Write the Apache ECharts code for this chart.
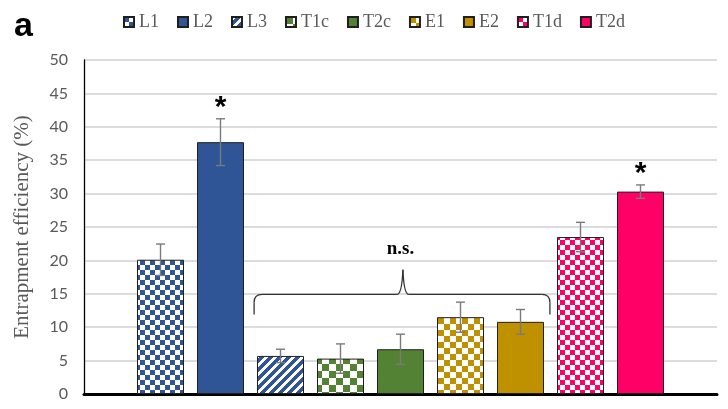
<!DOCTYPE html>
<html>
<head>
<meta charset="utf-8">
<script src="https://cdn.jsdelivr.net/npm/echarts@6/dist/echarts.min.js"></script>
<style>html,body{margin:0;padding:0;background:#fff}#c{width:728px;height:409px}</style>
</head>
<body>
<div id="c"></div>
<script>
// ---- data ----
const categories = ['L1', 'L2', 'L3', 'T1c', 'T2c', 'E1', 'E2', 'T1d', 'T2d'];
const values = [20.1, 37.7, 5.7, 5.3, 6.7, 11.5, 10.8, 23.5, 30.3];
const errors = [2.35, 3.5, 1.0, 2.2, 2.25, 2.25, 1.85, 2.2, 1.0];
const yMin = 0, yMax = 50, yInterval = 5;
const yAxisTitle = 'Entrapment efficiency (%)';
const panelLabel = 'a';
// significance marks: [category index, y value, text]
const starMarks = [[1, 42.8, '*'], [8, 33.0, '*']];
const nsMark = [[4, 21.7, 'n.s.']];
// brace: [x start, x end, y of line, y of ends, x of tip, y of tip] (data units)
const brace = [[1.56, 6.49, 14.9, 11.9, 4.04, 18.6]];

// ---- styles ----
const colors = ['#2F5597', '#2F5597', '#2F5597', '#548235', '#548235', '#BF9000', '#BF9000', '#FF0066', '#FF0066'];
const fills = ['checker5', 'solid', 'stripe', 'checker7', 'solid', 'checker6', 'solid', 'checker5', 'solid'];

function checker(color, s) {
  const c = document.createElement('canvas');
  c.width = 2 * s; c.height = 2 * s;
  const g = c.getContext('2d');
  g.fillStyle = '#ffffff'; g.fillRect(0, 0, 2 * s, 2 * s);
  g.fillStyle = color; g.fillRect(0, 0, s, s); g.fillRect(s, s, s, s);
  return { image: c, repeat: 'repeat' };
}
function stripe(color, p, w) {
  const c = document.createElement('canvas');
  c.width = p; c.height = p;
  const g = c.getContext('2d');
  const img = g.createImageData(p, p);
  const r = parseInt(color.slice(1, 3), 16), gg = parseInt(color.slice(3, 5), 16), b = parseInt(color.slice(5, 7), 16);
  for (let y = 0; y < p; y++) for (let x = 0; x < p; x++) {
    const k = (y * p + x) * 4;
    const white = ((x + y) % p) < w;
    img.data[k] = white ? 255 : r; img.data[k + 1] = white ? 255 : gg; img.data[k + 2] = white ? 255 : b; img.data[k + 3] = 255;
  }
  g.putImageData(img, 0, 0);
  return { image: c, repeat: 'repeat' };
}
function fillFor(i) {
  const f = fills[i], col = colors[i];
  if (f === 'solid') return col;
  if (f === 'stripe') return stripe(col, 9, 4);
  return checker(col, parseInt(f.slice(7), 10));
}

const chart = echarts.init(document.getElementById('c'), null, { renderer: 'canvas' });

const barSeries = categories.map((name, i) => ({
  name: name,
  type: 'bar',
  barWidth: 47,
  barGap: '-100%',
  data: [[i, values[i]]],
  itemStyle: { color: fillFor(i), borderColor: '#1f1f1f', borderWidth: 1 },
  emphasis: { disabled: true },
  animation: false,
  z: 2
}));

const errorSeries = {
  type: 'custom',
  name: 'err',
  data: categories.map((c, i) => [i, values[i], errors[i]]),
  encode: { x: 0, y: 1 },
  z: 5,
  silent: true,
  renderItem: function (params, api) {
    const x = api.value(0), v = api.value(1), e = api.value(2);
    const t = api.coord([x, v + e]), b = api.coord([x, v - e]);
    const hw = 4.5;
    const st = { stroke: '#7a7a7a', lineWidth: 1.4 };
    return { type: 'group', children: [
      { type: 'line', shape: { x1: t[0], y1: t[1], x2: b[0], y2: b[1] }, style: st },
      { type: 'line', shape: { x1: t[0] - hw, y1: t[1], x2: t[0] + hw, y2: t[1] }, style: st },
      { type: 'line', shape: { x1: b[0] - hw, y1: b[1], x2: b[0] + hw, y2: b[1] }, style: st }
    ] };
  }
};

function textSeries(data, font) {
  return {
    type: 'custom',
    data: data,
    encode: { x: 0, y: 1 },
    z: 6,
    silent: true,
    renderItem: function (params, api) {
      const p = api.coord([api.value(0), api.value(1)]);
      return { type: 'text', x: p[0], y: p[1], style: { text: data[params.dataIndex][2], font: font, fill: '#000', align: 'center', verticalAlign: 'middle' } };
    }
  };
}

const braceSeries = {
  type: 'custom',
  data: brace,
  encode: { x: 0, y: 2 },
  z: 6,
  silent: true,
  renderItem: function (params, api) {
    const d = brace[params.dataIndex];
    const L = api.coord([d[0], d[3]]), R = api.coord([d[1], d[3]]);
    const ly = api.coord([d[0], d[2]])[1];
    const T = api.coord([d[4], d[5]]);
    const r = 8, w = 6;
    const st = { stroke: '#333', lineWidth: 1.3, fill: null };
    return { type: 'group', children: [
      { type: 'line', shape: { x1: L[0], y1: L[1], x2: L[0], y2: ly + r }, style: st },
      { type: 'bezierCurve', shape: { x1: L[0], y1: ly + r, cpx1: L[0], cpy1: ly, x2: L[0] + r, y2: ly }, style: st },
      { type: 'line', shape: { x1: L[0] + r, y1: ly, x2: T[0] - w, y2: ly }, style: st },
      { type: 'bezierCurve', shape: { x1: T[0] - w, y1: ly, cpx1: T[0] - 1, cpy1: ly, x2: T[0], y2: T[1] }, style: st },
      { type: 'bezierCurve', shape: { x1: T[0], y1: T[1], cpx1: T[0] + 1, cpy1: ly, x2: T[0] + w, y2: ly }, style: st },
      { type: 'line', shape: { x1: T[0] + w, y1: ly, x2: R[0] - r, y2: ly }, style: st },
      { type: 'bezierCurve', shape: { x1: R[0] - r, y1: ly, cpx1: R[0], cpy1: ly, x2: R[0], y2: ly + r }, style: st },
      { type: 'line', shape: { x1: R[0], y1: ly + r, x2: R[0], y2: R[1] }, style: st }
    ] };
  }
};

const option = {
  animation: false,
  backgroundColor: '#ffffff',
  grid: { left: 84, right: 11, top: 60, bottom: 15, containLabel: false },
  legend: {
    data: categories,
    left: 123,
    top: 13,
    padding: 0,
    itemWidth: 10,
    itemHeight: 10,
    itemGap: 18,
    icon: 'rect',
    selectedMode: false,
    textStyle: { fontFamily: 'Liberation Serif', fontSize: 18, color: '#595959' }
  },
  graphic: [{
    type: 'text', left: 14, top: 10,
    style: { text: panelLabel, font: 'bold 34px "Liberation Sans"', fill: '#000' }
  }],
  xAxis: {
    type: 'value',
    min: -1.275,
    max: 9.275,
    axisLine: { show: true, onZero: false, lineStyle: { color: '#000', width: 3 } },
    axisTick: { show: false },
    axisLabel: { show: false },
    splitLine: { show: false }
  },
  yAxis: {
    type: 'value',
    min: yMin,
    max: yMax,
    interval: yInterval,
    name: yAxisTitle,
    nameLocation: 'middle',
    nameRotate: 90,
    nameGap: 51,
    nameTextStyle: { fontFamily: 'Liberation Serif', fontSize: 21, color: '#595959' },
    axisLine: { show: true, onZero: false, lineStyle: { color: '#000', width: 1.3 } },
    axisTick: { show: false },
    axisLabel: { margin: 16, fontFamily: 'Lato', fontSize: 16, color: '#595959' },
    splitLine: { show: true, lineStyle: { color: '#d0d0d0', width: 1.5 } }
  },
  series: barSeries.concat([errorSeries, braceSeries,
    textSeries(starMarks, 'bold 30px "Liberation Sans"'),
    textSeries(nsMark, 'bold 19px "Liberation Serif"')])
};
chart.setOption(option);
</script>
</body>
</html>
